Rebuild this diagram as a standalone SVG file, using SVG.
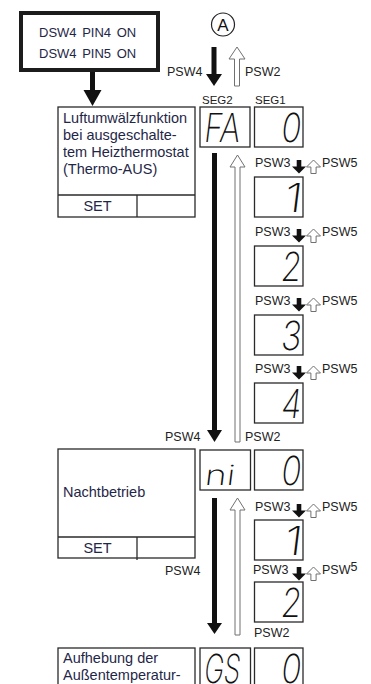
<svg xmlns="http://www.w3.org/2000/svg" width="371" height="684" viewBox="0 0 371 684">
<defs>
<style>
.bx{font-family:"Liberation Sans",Arial,sans-serif;font-size:14.5px;fill:#1f2748}
.dsw{font-family:"Liberation Sans",Arial,sans-serif;font-size:13px;fill:#1f2748;word-spacing:2px}
.lb{font-family:"Liberation Sans",Arial,sans-serif;font-size:12.5px;fill:#222}
.sg{font-family:"Liberation Sans",Arial,sans-serif;font-size:11.5px;fill:#222}
.seg{font-family:Inter,"Liberation Sans",sans-serif;font-weight:200;font-size:40px;fill:#111}
.box{fill:#fff;stroke:#2a2a2a;stroke-width:1.3}
.ln{fill:none;stroke:#2a2a2a;stroke-width:1.3}
.blk{fill:#111}
.hol{fill:#fff;stroke:#707070;stroke-width:1}
</style>
<g id="sblk" class="blk"><rect x="-2.3" y="0" width="4.6" height="7"/><polygon points="-7,6.5 7,6.5 0,13.5"/></g>
<polygon id="shol" class="hol" points="0,0 7,7 2.6,7 2.6,13.5 -2.6,13.5 -2.6,7 -7,7"/>
</defs>
<rect width="371" height="684" fill="#fff"/>

<g id="node-dsw">
<rect x="21" y="13" width="137" height="57" fill="#fff" stroke="#1c1c1c" stroke-width="4"/>
<text class="dsw" x="39" y="37">DSW4 PIN4 ON</text>
<text class="dsw" x="39" y="58">DSW4 PIN5 ON</text>
</g>

<g id="node-A">
<circle cx="223" cy="24.5" r="11.5" fill="#fff" stroke="#222" stroke-width="1.2"/>
<text x="223" y="30.5" text-anchor="middle" font-family="Liberation Sans, Arial, sans-serif" font-size="17" fill="#111">A</text>
</g>

<g id="seg-labels">
<text class="sg" x="202" y="104">SEG2</text>
<text class="sg" x="255" y="104">SEG1</text>
</g>

<g id="node-luft">
<rect class="box" x="58" y="107" width="137" height="110"/>
<line class="ln" x1="58" y1="195" x2="195" y2="195"/>
<line class="ln" x1="137" y1="195" x2="137" y2="217"/>
<text class="bx" x="63" y="123">Luftumwälzfunktion</text>
<text class="bx" x="63" y="140">bei ausgeschalte-</text>
<text class="bx" x="63" y="157">tem Heizthermostat</text>
<text class="bx" x="63" y="174">(Thermo-AUS)</text>
<text class="bx" x="97.5" y="211" text-anchor="middle">SET</text>
</g>

<g id="node-fa">
<rect class="box" x="200" y="107" width="50" height="40"/>
<text class="seg" transform="translate(203,142) skewX(-7)" textLength="36" lengthAdjust="spacingAndGlyphs">FA</text>
</g>
<g id="node-fa-0">
<rect class="box" x="254.5" y="107" width="48.5" height="40"/>
<text class="seg" transform="translate(280,142) skewX(-7)" textLength="20" lengthAdjust="spacingAndGlyphs">0</text>
</g>
<g id="node-fa-1">
<rect class="box" x="254.5" y="177" width="48.5" height="40"/>
<text class="seg" transform="translate(283,212) skewX(-7)" textLength="18" lengthAdjust="spacingAndGlyphs">1</text>
</g>
<g id="node-fa-2">
<rect class="box" x="254.5" y="246" width="48.5" height="40"/>
<text class="seg" transform="translate(280,281) skewX(-7)" textLength="20" lengthAdjust="spacingAndGlyphs">2</text>
</g>
<g id="node-fa-3">
<rect class="box" x="254.5" y="315" width="48.5" height="40"/>
<text class="seg" transform="translate(280,350) skewX(-7)" textLength="20" lengthAdjust="spacingAndGlyphs">3</text>
</g>
<g id="node-fa-4">
<rect class="box" x="254.5" y="383" width="48.5" height="40"/>
<text class="seg" transform="translate(280,418) skewX(-7)" textLength="20" lengthAdjust="spacingAndGlyphs">4</text>
</g>

<g id="node-nacht">
<rect class="box" x="58" y="449" width="137" height="109"/>
<line class="ln" x1="58" y1="537" x2="195" y2="537"/>
<line class="ln" x1="137" y1="537" x2="137" y2="560"/>
<text class="bx" x="63" y="497">Nachtbetrieb</text>
<text class="bx" x="97.5" y="553" text-anchor="middle">SET</text>
</g>
<g id="node-ni">
<rect class="box" x="200" y="450" width="50.5" height="40"/>
<text class="seg" transform="translate(204,485) skewX(-7)" style="font-size:28px" textLength="30" lengthAdjust="spacingAndGlyphs">ni</text>
</g>
<g id="node-ni-0">
<rect class="box" x="254.5" y="450" width="48.5" height="40"/>
<text class="seg" transform="translate(280,485) skewX(-7)" textLength="20" lengthAdjust="spacingAndGlyphs">0</text>
</g>
<g id="node-ni-1">
<rect class="box" x="254.5" y="520" width="48.5" height="40"/>
<text class="seg" transform="translate(283,555) skewX(-7)" textLength="18" lengthAdjust="spacingAndGlyphs">1</text>
</g>
<g id="node-ni-2">
<rect class="box" x="254.5" y="582" width="48.5" height="40"/>
<text class="seg" transform="translate(280,617) skewX(-7)" textLength="20" lengthAdjust="spacingAndGlyphs">2</text>
</g>

<g id="node-auf">
<rect class="box" x="58" y="648" width="137" height="60"/>
<text class="bx" x="63" y="663">Aufhebung der</text>
<text class="bx" x="63" y="680">Außentemperatur-</text>
</g>
<g id="node-gs">
<rect class="box" x="200" y="648" width="50.5" height="60"/>
<text class="seg" transform="translate(203,683) skewX(-7)" textLength="36" lengthAdjust="spacingAndGlyphs">GS</text>
</g>
<g id="node-gs-0">
<rect class="box" x="254.5" y="648" width="48.5" height="60"/>
<text class="seg" transform="translate(280,683) skewX(-7)" textLength="20" lengthAdjust="spacingAndGlyphs">0</text>
</g>

<g id="connectors">
<g class="blk">
<rect x="90" y="72" width="5" height="19"/><polygon points="83.5,90 101.5,90 92.5,106"/>
<rect x="211.5" y="47" width="5" height="28"/><polygon points="206,74 222,74 214,86"/>
<rect x="212" y="153" width="5" height="278"/><polygon points="207,430 222,430 214.5,442"/>
<rect x="212" y="498" width="5" height="126"/><polygon points="207,623 222,623 214.5,634"/>
</g>
<polygon class="hol" points="237,47 245,59 239.5,59 239.5,86 234.5,86 234.5,59 229,59"/>
<polygon class="hol" points="237.5,155 245,167 240,167 240,442 235,442 235,167 230,167"/>
<polygon class="hol" points="237.5,498 245,510 240,510 240,635 235,635 235,510 230,510"/>
<use href="#sblk" x="299" y="160"/><use href="#shol" x="313.5" y="160"/>
<use href="#sblk" x="299" y="229"/><use href="#shol" x="313.5" y="229"/>
<use href="#sblk" x="299" y="298"/><use href="#shol" x="313.5" y="298"/>
<use href="#sblk" x="299" y="366"/><use href="#shol" x="313.5" y="366"/>
<use href="#sblk" x="299" y="504"/><use href="#shol" x="313.5" y="504"/>
<use href="#sblk" x="299" y="567"/><use href="#shol" x="313.5" y="567"/>
</g>

<g id="connector-labels">
<text class="lb" x="167" y="76">PSW4</text>
<text class="lb" x="245" y="76">PSW2</text>
<text class="lb" x="255" y="167">PSW3</text><text class="lb" x="322" y="167">PSW5</text>
<text class="lb" x="255" y="236">PSW3</text><text class="lb" x="322" y="236">PSW5</text>
<text class="lb" x="255" y="305">PSW3</text><text class="lb" x="322" y="305">PSW5</text>
<text class="lb" x="255" y="373">PSW3</text><text class="lb" x="322" y="373">PSW5</text>
<text class="lb" x="165" y="441">PSW4</text>
<text class="lb" x="245" y="441">PSW2</text>
<text class="lb" x="255" y="511">PSW3</text><text class="lb" x="322" y="511">PSW5</text>
<text class="lb" x="253" y="574">PSW3</text><text class="lb" x="322" y="574">PSW<tspan dy="-3">5</tspan></text>
<text class="lb" x="165" y="575">PSW4</text>
<text class="lb" x="254" y="637">PSW2</text>
</g>
</svg>
